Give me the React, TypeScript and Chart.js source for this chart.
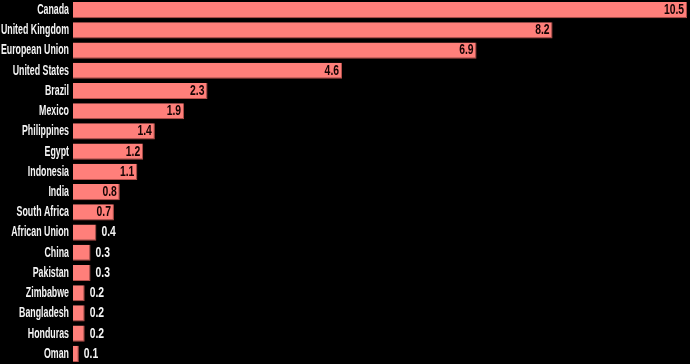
import React, { useEffect, useRef } from "react";
import { Chart, registerables } from "chart.js";

Chart.register(...registerables);

const categories = [
  "Canada", "United Kingdom", "European Union", "United States", "Brazil", "Mexico",
  "Philippines", "Egypt", "Indonesia", "India", "South Africa", "African Union",
  "China", "Pakistan", "Zimbabwe", "Bangladesh", "Honduras", "Oman",
];
const values = [10.5, 8.2, 6.9, 4.6, 2.3, 1.9, 1.4, 1.2, 1.1, 0.8, 0.7, 0.4, 0.3, 0.3, 0.2, 0.2, 0.2, 0.1];
const valueLabels = ["10.5", "8.2", "6.9", "4.6", "2.3", "1.9", "1.4", "1.2", "1.1", "0.8", "0.7", "0.4", "0.3", "0.3", "0.2", "0.2", "0.2", "0.1"];

const FONT = "bold 14px 'Liberation Sans', Arial, sans-serif";
const SQUEEZE_CAT = 0.63;
const SQUEEZE_VAL = 0.74;

function drawSqueezed(ctx: CanvasRenderingContext2D, text: string, x: number, y: number, align: "left" | "right", sq: number) {
  ctx.save();
  ctx.translate(x, y);
  ctx.scale(sq, 1);
  ctx.textAlign = align;
  ctx.fillText(text, 0, 0);
  ctx.restore();
}

const labelPlugin = {
  id: "customLabels",
  afterDatasetsDraw(chart: any) {
    const ctx = chart.ctx as CanvasRenderingContext2D;
    const meta = chart.getDatasetMeta(0);
    const yScale = chart.scales.y;
    ctx.save();
    ctx.font = FONT;
    ctx.textBaseline = "middle";
    ctx.fillStyle = "#f4f4f4";
    categories.forEach((c, i) => {
      const y = yScale.getPixelForTick(i);
      drawSqueezed(ctx, c, chart.chartArea.left - 4, y, "right", SQUEEZE_CAT);
    });
    meta.data.forEach((bar: any, i: number) => {
      const text = valueLabels[i];
      const w = ctx.measureText(text).width * SQUEEZE_VAL;
      const barW = bar.x - bar.base;
      if (barW > w + 12) {
        ctx.fillStyle = "#140303";
        drawSqueezed(ctx, text, bar.x - 3, bar.y, "right", SQUEEZE_VAL);
      } else {
        ctx.fillStyle = "#f4f4f4";
        drawSqueezed(ctx, text, bar.x + 5, bar.y, "left", SQUEEZE_VAL);
      }
    });
    ctx.restore();
  },
};

export default function App() {
  const ref = useRef<HTMLCanvasElement>(null);
  useEffect(() => {
    document.body.style.margin = "0";
    document.body.style.background = "#000";
    const chart = new Chart(ref.current!, {
      type: "bar",
      data: {
        labels: categories,
        datasets: [
          {
            data: values,
            backgroundColor: "#ff7f7a",
            borderColor: "#b34f4a",
            borderWidth: { top: 0, left: 0, right: 1, bottom: 1 },
            borderSkipped: false,
            barPercentage: 0.8,
            categoryPercentage: 1,
          },
        ],
      },
      options: {
        indexAxis: "y",
        animation: false,
        responsive: false,
        maintainAspectRatio: false,
        layout: { padding: 0 },
        plugins: { legend: { display: false }, tooltip: { enabled: false } },
        scales: {
          x: { display: false, min: 0, max: 10.55 },
          y: {
            grid: { display: false, drawTicks: false },
            border: { display: false },
            ticks: { display: false },
            afterFit: (s: any) => {
              s.width = 73;
              s.paddingTop = 0;
              s.paddingBottom = 0;
            },
          },
        },
      },
      plugins: [labelPlugin],
    });
    return () => chart.destroy();
  }, []);
  return (
    <div style={{ width: 690, height: 364, background: "#000" }}>
      <canvas ref={ref} width={690} height={364} />
    </div>
  );
}
